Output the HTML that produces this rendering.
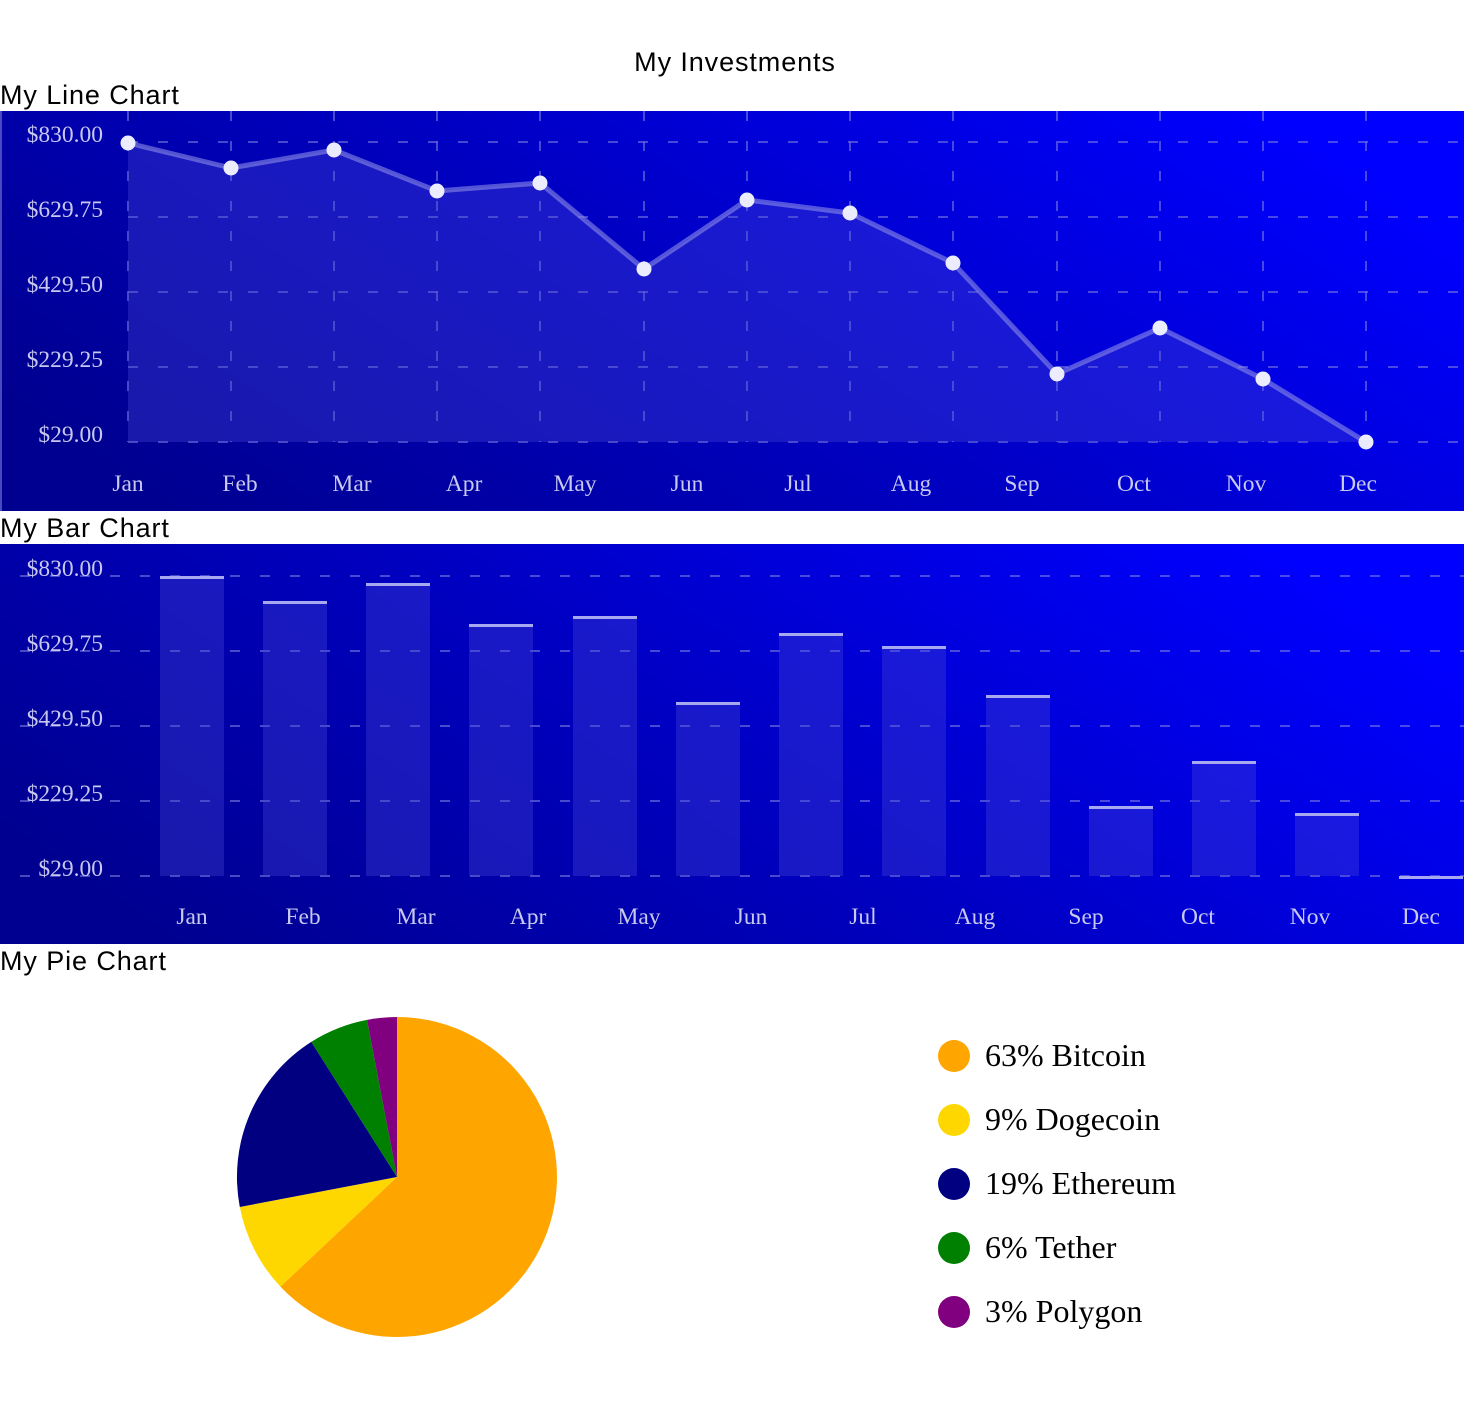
<!DOCTYPE html>
<html><head><meta charset="utf-8"><style>
html,body{margin:0;padding:0;background:#fff;width:1464px;height:1404px;overflow:hidden}
svg{display:block}
.t{font-family:"Liberation Sans",sans-serif;font-size:27px;letter-spacing:0.9px;fill:#000}
.ax{font-family:"Liberation Serif",serif;font-size:23.5px;fill:#c8c8f0}
.lg{font-family:"Liberation Serif",serif;font-size:32px;fill:#000}
</style></head><body>
<svg width="1464" height="1404" viewBox="0 0 1464 1404" xmlns="http://www.w3.org/2000/svg">
<defs>
<linearGradient id="bg" x1="0" y1="0.7" x2="1" y2="0.3">
<stop offset="0" stop-color="#000090"/><stop offset="0.5" stop-color="#0000c4"/><stop offset="1" stop-color="#0000ff"/>
</linearGradient>
</defs>
<text class="t" x="735" y="71" text-anchor="middle">My Investments</text>
<text class="t" x="0" y="104">My Line Chart</text>
<rect x="0" y="111" width="1464" height="400" fill="url(#bg)"/>
<rect x="0" y="111" width="2" height="400" fill="#4a4ac0"/>
<g stroke="#7a7ae0" stroke-width="1.5" stroke-dasharray="10,20" fill="none" opacity="0.8">
<path d="M128 142H1464M128 217H1464M128 292H1464M128 367H1464M128 442H1464"/>
<path d="M128 111V442M231 111V442M334 111V442M437 111V442M540 111V442M644 111V442M747 111V442M850 111V442M953 111V442M1057 111V442M1160 111V442M1263 111V442M1366 111V442"/>
</g>
<path d="M128 143L231 168L334 150L437 191L540 183L644 269L747 200L850 213L953 263L1057 374L1160 328L1263 379L1366 442L1366 442L128 442Z" fill="#4848d8" fill-opacity="0.35"/>
<path d="M128 143L231 168L334 150L437 191L540 183L644 269L747 200L850 213L953 263L1057 374L1160 328L1263 379L1366 442" fill="none" stroke="#8a8ae8" stroke-width="5" stroke-opacity="0.6"/>
<g fill="#ececff">
<circle cx="128" cy="143" r="7.5"/><circle cx="231" cy="168" r="7.5"/><circle cx="334" cy="150" r="7.5"/><circle cx="437" cy="191" r="7.5"/><circle cx="540" cy="183" r="7.5"/><circle cx="644" cy="269" r="7.5"/><circle cx="747" cy="200" r="7.5"/><circle cx="850" cy="213" r="7.5"/><circle cx="953" cy="263" r="7.5"/><circle cx="1057" cy="374" r="7.5"/><circle cx="1160" cy="328" r="7.5"/><circle cx="1263" cy="379" r="7.5"/><circle cx="1366" cy="442" r="7.5"/>
</g>
<g class="ax" text-anchor="end">
<text x="103" y="142">$830.00</text><text x="103" y="217">$629.75</text><text x="103" y="292">$429.50</text><text x="103" y="367">$229.25</text><text x="103" y="442">$29.00</text>
</g>
<g class="ax" text-anchor="middle">
<text x="128" y="491">Jan</text><text x="240" y="491">Feb</text><text x="352" y="491">Mar</text><text x="464" y="491">Apr</text><text x="575" y="491">May</text><text x="687" y="491">Jun</text><text x="798" y="491">Jul</text><text x="911" y="491">Aug</text><text x="1022" y="491">Sep</text><text x="1134" y="491">Oct</text><text x="1246" y="491">Nov</text><text x="1358" y="491">Dec</text>
</g>

<text class="t" x="0" y="537">My Bar Chart</text>
<rect x="0" y="544" width="1464" height="400" fill="url(#bg)"/>
<g stroke="#7a7ae0" stroke-width="1.5" stroke-dasharray="10,20" fill="none" opacity="0.8">
<path d="M20 576H1464M20 651H1464M20 726H1464M20 801H1464M20 876H1464"/>
</g>
<g fill="#4848d8" fill-opacity="0.35">
<rect x="160" y="577" width="64" height="299"/><rect x="263" y="602" width="64" height="274"/><rect x="366" y="584" width="64" height="292"/><rect x="469" y="625" width="64" height="251"/><rect x="573" y="617" width="64" height="259"/><rect x="676" y="703" width="64" height="173"/><rect x="779" y="634" width="64" height="242"/><rect x="882" y="647" width="64" height="229"/><rect x="986" y="696" width="64" height="180"/><rect x="1089" y="807" width="64" height="69"/><rect x="1192" y="762" width="64" height="114"/><rect x="1295" y="814" width="64" height="62"/>
</g>
<g fill="#a8a8f0">
<rect x="160" y="576" width="64" height="3"/><rect x="263" y="601" width="64" height="3"/><rect x="366" y="583" width="64" height="3"/><rect x="469" y="624" width="64" height="3"/><rect x="573" y="616" width="64" height="3"/><rect x="676" y="702" width="64" height="3"/><rect x="779" y="633" width="64" height="3"/><rect x="882" y="646" width="64" height="3"/><rect x="986" y="695" width="64" height="3"/><rect x="1089" y="806" width="64" height="3"/><rect x="1192" y="761" width="64" height="3"/><rect x="1295" y="813" width="64" height="3"/><rect x="1399" y="876" width="64" height="3"/>
</g>
<g class="ax" text-anchor="end">
<text x="103" y="576">$830.00</text><text x="103" y="651">$629.75</text><text x="103" y="726">$429.50</text><text x="103" y="801">$229.25</text><text x="103" y="876">$29.00</text>
</g>
<g class="ax" text-anchor="middle">
<text x="192" y="924">Jan</text><text x="303" y="924">Feb</text><text x="416" y="924">Mar</text><text x="528" y="924">Apr</text><text x="639" y="924">May</text><text x="751" y="924">Jun</text><text x="863" y="924">Jul</text><text x="975" y="924">Aug</text><text x="1086" y="924">Sep</text><text x="1198" y="924">Oct</text><text x="1310" y="924">Nov</text><text x="1421" y="924">Dec</text>
</g>

<text class="t" x="0" y="970">My Pie Chart</text>
<path d="M397 1177L397 1017A160 160 0 1 1 280.4 1286.6Z" fill="#ffa500"/>
<path d="M397 1177L280.4 1286.6A160 160 0 0 1 239.8 1207Z" fill="#ffd700"/>
<path d="M397 1177L239.8 1207A160 160 0 0 1 311.3 1041.9Z" fill="#000080"/>
<path d="M397 1177L311.3 1041.9A160 160 0 0 1 367 1019.9Z" fill="#008000"/>
<path d="M397 1177L367 1019.9A160 160 0 0 1 397 1017Z" fill="#800080"/>
<circle cx="954" cy="1056" r="16" fill="#ffa500"/>
<circle cx="954" cy="1120" r="16" fill="#ffd700"/>
<circle cx="954" cy="1184" r="16" fill="#000080"/>
<circle cx="954" cy="1248" r="16" fill="#008000"/>
<circle cx="954" cy="1312" r="16" fill="#800080"/>
<text class="lg" x="985" y="1066">63% Bitcoin</text>
<text class="lg" x="985" y="1130">9% Dogecoin</text>
<text class="lg" x="985" y="1194">19% Ethereum</text>
<text class="lg" x="985" y="1258">6% Tether</text>
<text class="lg" x="985" y="1322">3% Polygon</text>
</svg>
</body></html>
